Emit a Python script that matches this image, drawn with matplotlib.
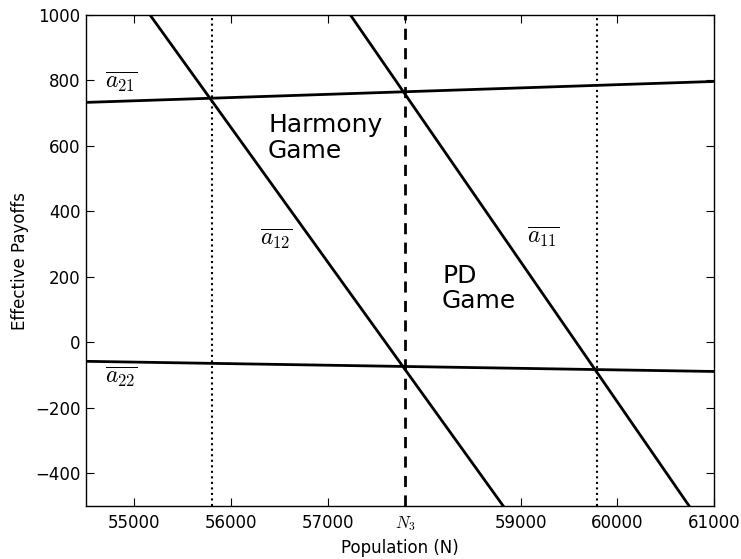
import matplotlib
matplotlib.use("Agg")
import matplotlib.pyplot as plt

plt.rcParams['mathtext.fontset'] = 'cm'
plt.rcParams['font.family'] = 'DejaVu Sans'

# Data
x_span = [54500, 61000]
a21 = [733, 797]
a22 = [-58, -89]
a12 = [1272, -1395]
a11 = [2171, -610]
N3 = 57800
N_left = 55800
N_right = 59790
xticks = [55000, 56000, 57000, N3, 59000, 60000, 61000]
xtick_labels = ["55000", "56000", "57000", r"$N_3$", "59000", "60000", "61000"]
yticks = [-400, -200, 0, 200, 400, 600, 800, 1000]

fig = plt.figure(figsize=(7.41, 5.59), dpi=100)
ax = fig.add_axes([86/741, 1-506/559, (714-86)/741, (506-15)/559])

for ys in (a21, a22, a12, a11):
    ax.plot(x_span, ys, color='black', lw=2)

ax.axvline(N3, color='black', lw=2, ls=(0, (4, 3)))
ax.axvline(N_left, color='black', lw=1.5, ls=':')
ax.axvline(N_right, color='black', lw=1.5, ls=':')

ax.set_xlim(54500, 61000)
ax.set_ylim(-500, 1000)
ax.set_xticks(xticks)
ax.set_xticklabels(xtick_labels)
ax.set_yticks(yticks)
ax.set_yticklabels([str(v).replace('-', '\u2212') for v in yticks])
ax.tick_params(direction='in', top=True, right=True, labelsize=12, length=6, width=0.8)
ax.tick_params(axis='x', pad=6)
ax.tick_params(axis='y', pad=4)
for s in ax.spines.values():
    s.set_linewidth(1.0)

ax.set_xlabel("Population (N)", fontsize=12)
ax.set_ylabel("Effective Payoffs", fontsize=12)

ax.text(56384, 700, "Harmony\nGame", fontsize=18, va='top', ha='left', linespacing=1.08)
ax.text(58185, 240, "PD\nGame", fontsize=18, va='top', ha='left', linespacing=1.08)

ax.text(54697, 797, r"$\overline{a_{21}}$", fontsize=17, va='center', ha='left')
ax.text(56301, 315, r"$\overline{a_{12}}$", fontsize=17, va='center', ha='left')
ax.text(59065, 321, r"$\overline{a_{11}}$", fontsize=17, va='center', ha='left')
ax.text(54697, -107, r"$\overline{a_{22}}$", fontsize=17, va='center', ha='left')

fig.savefig("out.png", dpi=100, facecolor='white')
